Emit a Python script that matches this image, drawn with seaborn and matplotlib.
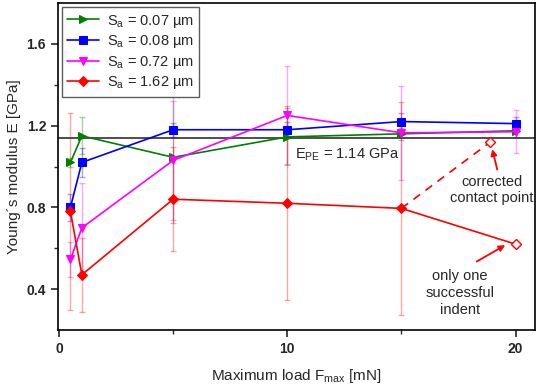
import seaborn as sns
import matplotlib.pyplot as plt
import pandas as pd

loads = [0.5, 1, 5, 10, 15, 20]
E_007 = [1.02, 1.15, 1.045, 1.145, 1.16, 1.175]
err_007 = [0.02, 0.09, 0.32, 0.14, 0.03, 0.03]
E_008 = [0.80, 1.02, 1.18, 1.18, 1.22, 1.21]
err_008 = [0.067, 0.07, 0.035, 0.04, 0.04, 0.03]
E_072 = [0.545, 0.70, 1.03, 1.25, 1.165, 1.17]
err_072 = [0.085, 0.22, 0.29, 0.24, 0.23, 0.105]
E_162 = [0.78, 0.47, 0.84, 0.82, 0.795, 0.62]
err_162 = [0.48, 0.18, 0.255, 0.475, 0.52, 0.0]

labels = ['S$_\\mathrm{a}$ = 0.07 µm', 'S$_\\mathrm{a}$ = 0.08 µm',
          'S$_\\mathrm{a}$ = 0.72 µm', 'S$_\\mathrm{a}$ = 1.62 µm']
colors = ['#008000', '#0000FF', '#FF00FF', '#FF0000']
markers = ['>', 's', 'v', 'D']

E_PE = 1.14
corrected_load = [15, 18.9]
corrected_E = [0.795, 1.12]

sns.set_style('ticks')
plt.rcParams['font.family'] = ['Arial', 'Liberation Sans', 'DejaVu Sans']
plt.rcParams['mathtext.fontset'] = 'custom'
plt.rcParams['mathtext.rm'] = 'Liberation Sans'

fig = plt.figure(figsize=(5.36, 3.85), dpi=100)
ax = fig.add_axes([0.108, 0.143, 0.89, 0.849])

series = [(E_007, err_007), (E_008, err_008), (E_072, err_072), (E_162, err_162)]
for (E, err), lab, c, m in zip(series, labels, colors, markers):
    df = pd.DataFrame({'F': loads, 'E': E, 'err': err})
    ax.errorbar(df['F'], df['E'], yerr=df['err'], fmt='none', ecolor=c,
                alpha=0.35, capsize=2, elinewidth=1, zorder=1)
    if m == 'D':
        sns.lineplot(data=df, x='F', y='E', color=c, marker=m, markersize=5,
                     markeredgecolor=c, linewidth=1.2, label=lab, ax=ax,
                     markevery=[0, 1, 2, 3, 4], zorder=3)
        last = df.iloc[[-1]]
        ax.plot(last['F'], last['E'], marker='D', ls='none', ms=5, mfc='white',
                mec=c, mew=1, zorder=4)
    else:
        sns.lineplot(data=df, x='F', y='E', color=c, marker=m, markersize=6,
                     markeredgecolor=c, linewidth=1.2, label=lab, ax=ax, zorder=3)

# korrigierter Kontaktpunkt
ax.plot(corrected_load, corrected_E, color='red', ls=(0, (5, 4)), lw=1.2, zorder=3)
ax.plot(corrected_load[1:], corrected_E[1:], marker='D', ls='none', ms=5,
        mfc='white', mec='red', mew=1, zorder=4)

ax.axhline(E_PE, color='#303030', lw=1.2, zorder=2)
ax.text(10.35, 1.06, 'E$_\\mathrm{PE}$ = 1.14 GPa', fontsize=10.5, va='center', ha='left')

arrow = dict(arrowstyle='-|>', color='red', lw=1.3, mutation_scale=9,
             shrinkA=0, shrinkB=0)
ax.text(18.95, 0.885, 'corrected\ncontact point', ha='center', va='center',
        fontsize=10.5, linespacing=1.25)
ax.annotate('', xy=(18.98, 1.085), xytext=(19.2, 0.985), arrowprops=arrow)
ax.text(17.55, 0.38, 'only one\nsuccessful\nindent', ha='center', va='center',
        fontsize=10.5, linespacing=1.25)
ax.annotate('', xy=(19.55, 0.615), xytext=(18.3, 0.535), arrowprops=arrow)

ax.set_xlim(-0.05, 20.85)
ax.set_ylim(0.2, 1.8)
ax.set_xticks([0, 10, 20])
ax.set_xticks([5, 15], minor=True)
ax.set_yticks([0.4, 0.8, 1.2, 1.6])
ax.set_yticks([0.6, 1.0, 1.4], minor=True)
ax.tick_params(which='major', direction='out', length=5, width=1.2, labelsize=10)
ax.tick_params(which='minor', direction='out', length=3, width=1.0)
for lbl in ax.get_xticklabels() + ax.get_yticklabels():
    lbl.set_fontweight('bold')
for sp in ax.spines.values():
    sp.set_linewidth(1.2)
    sp.set_color('black')

ax.set_xlabel('Maximum load F$_\\mathrm{max}$ [mN]', fontsize=11, labelpad=8)
ax.set_ylabel('Young´s modulus E [GPa]', fontsize=11, labelpad=4)

leg = ax.legend(loc='upper left', fontsize=10.5, frameon=True, fancybox=False,
                handlelength=2.2, handletextpad=0.5, borderpad=0.35,
                labelspacing=0.25, borderaxespad=0.3)
leg.get_frame().set_edgecolor('#333333')
leg.get_frame().set_linewidth(1.0)

fig.savefig('out.png', dpi=100)
